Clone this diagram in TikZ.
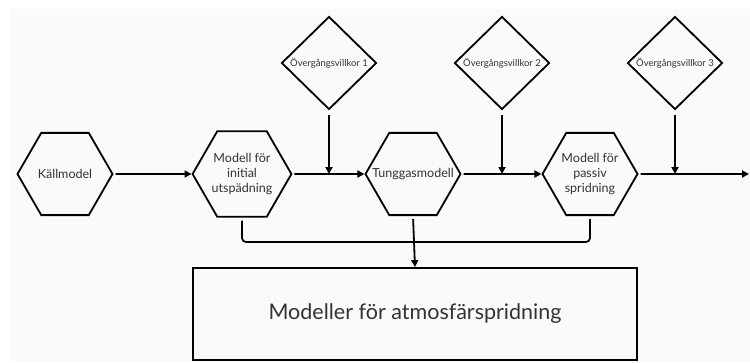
\documentclass[tikz,border=0pt]{standalone}
\usepackage{fontspec}
\setmainfont{Lato}
\usepackage{tikz}
\usetikzlibrary{shapes.geometric,arrows.meta}
\definecolor{bakgrund}{HTML}{FAFAFA}
\definecolor{textgra}{HTML}{333333}
\tikzstyle{modell}=[regular polygon, regular polygon sides=6, draw, minimum size=95pt, inner sep=0pt, align=center, font=\fontsize{12.5}{15}\selectfont, text=textgra]
\tikzstyle{villkor}=[diamond, draw, minimum width=95pt, minimum height=93pt, inner sep=0pt, font=\fontsize{9.5}{11}\selectfont, text=textgra]
\tikzstyle{samling}=[rectangle, draw, minimum width=444pt, minimum height=92pt, font=\fontsize{21.5}{25}\selectfont, text=textgra]

\begin{document}
\begin{tikzpicture}[x=1pt, y=-1pt, line width=1.8pt, >={Triangle[length=7pt,width=7pt]}]
                    \useasboundingbox (0, 0) rectangle (750, 362);
                    \fill[bakgrund] (10, 9) rectangle (750, 362);
                    \node[modell] (kall) at (65, 174) {Källmodel};
                    \node[modell] (spad) at (242, 174) {Modell för\\initial\\utspädning};
                    \node[modell] (tung) at (413, 174) {\makebox[0pt]{Tunggasmodell}};
                    \node[modell] (passiv) at (590, 174) {Modell för\\passiv\\spridning};
                    \node[villkor] (v1) at (329, 63) {Övergångsvillkor 1};
                    \node[villkor] (v2) at (502, 63) {Övergångsvillkor 2};
                    \node[villkor] (v3) at (675, 63) {Övergångsvillkor 3};
                    \node[samling] (atmo) at (415, 314) {Modeller för atmosfärspridning};
                    \coordinate (j1) at (v1 |- tung);
                    \coordinate (j2) at (v2 |- tung);
                    \coordinate (j3) at (v3 |- tung);
                    \coordinate (ut) at (749, 174);
                    \coordinate (buss) at (415, 242);
                    \draw[->, shorten <=2pt] (kall.east)--(spad.west);
                    \draw[->, shorten <=2pt] (spad.east)--(tung.west);
                    \draw[->, shorten <=2pt] (tung.east)--(passiv.west);
                    \draw[->, shorten <=2pt] (passiv.east)--(ut);
                    \draw[->, shorten <=5pt] (v1.south)--(j1);
                    \draw[->, shorten <=5pt] (v2.south)--(j2);
                    \draw[->, shorten <=5pt] (v3.south)--(j3);
                    \draw[rounded corners=4pt, shorten <=3pt, shorten >=3pt] (spad.south)--(spad.south |- buss)--(passiv.south |- buss)--(passiv.south);
                    \draw[->, shorten <=3pt] (tung.south)--(atmo.north);
                \end{tikzpicture}
\end{document}
